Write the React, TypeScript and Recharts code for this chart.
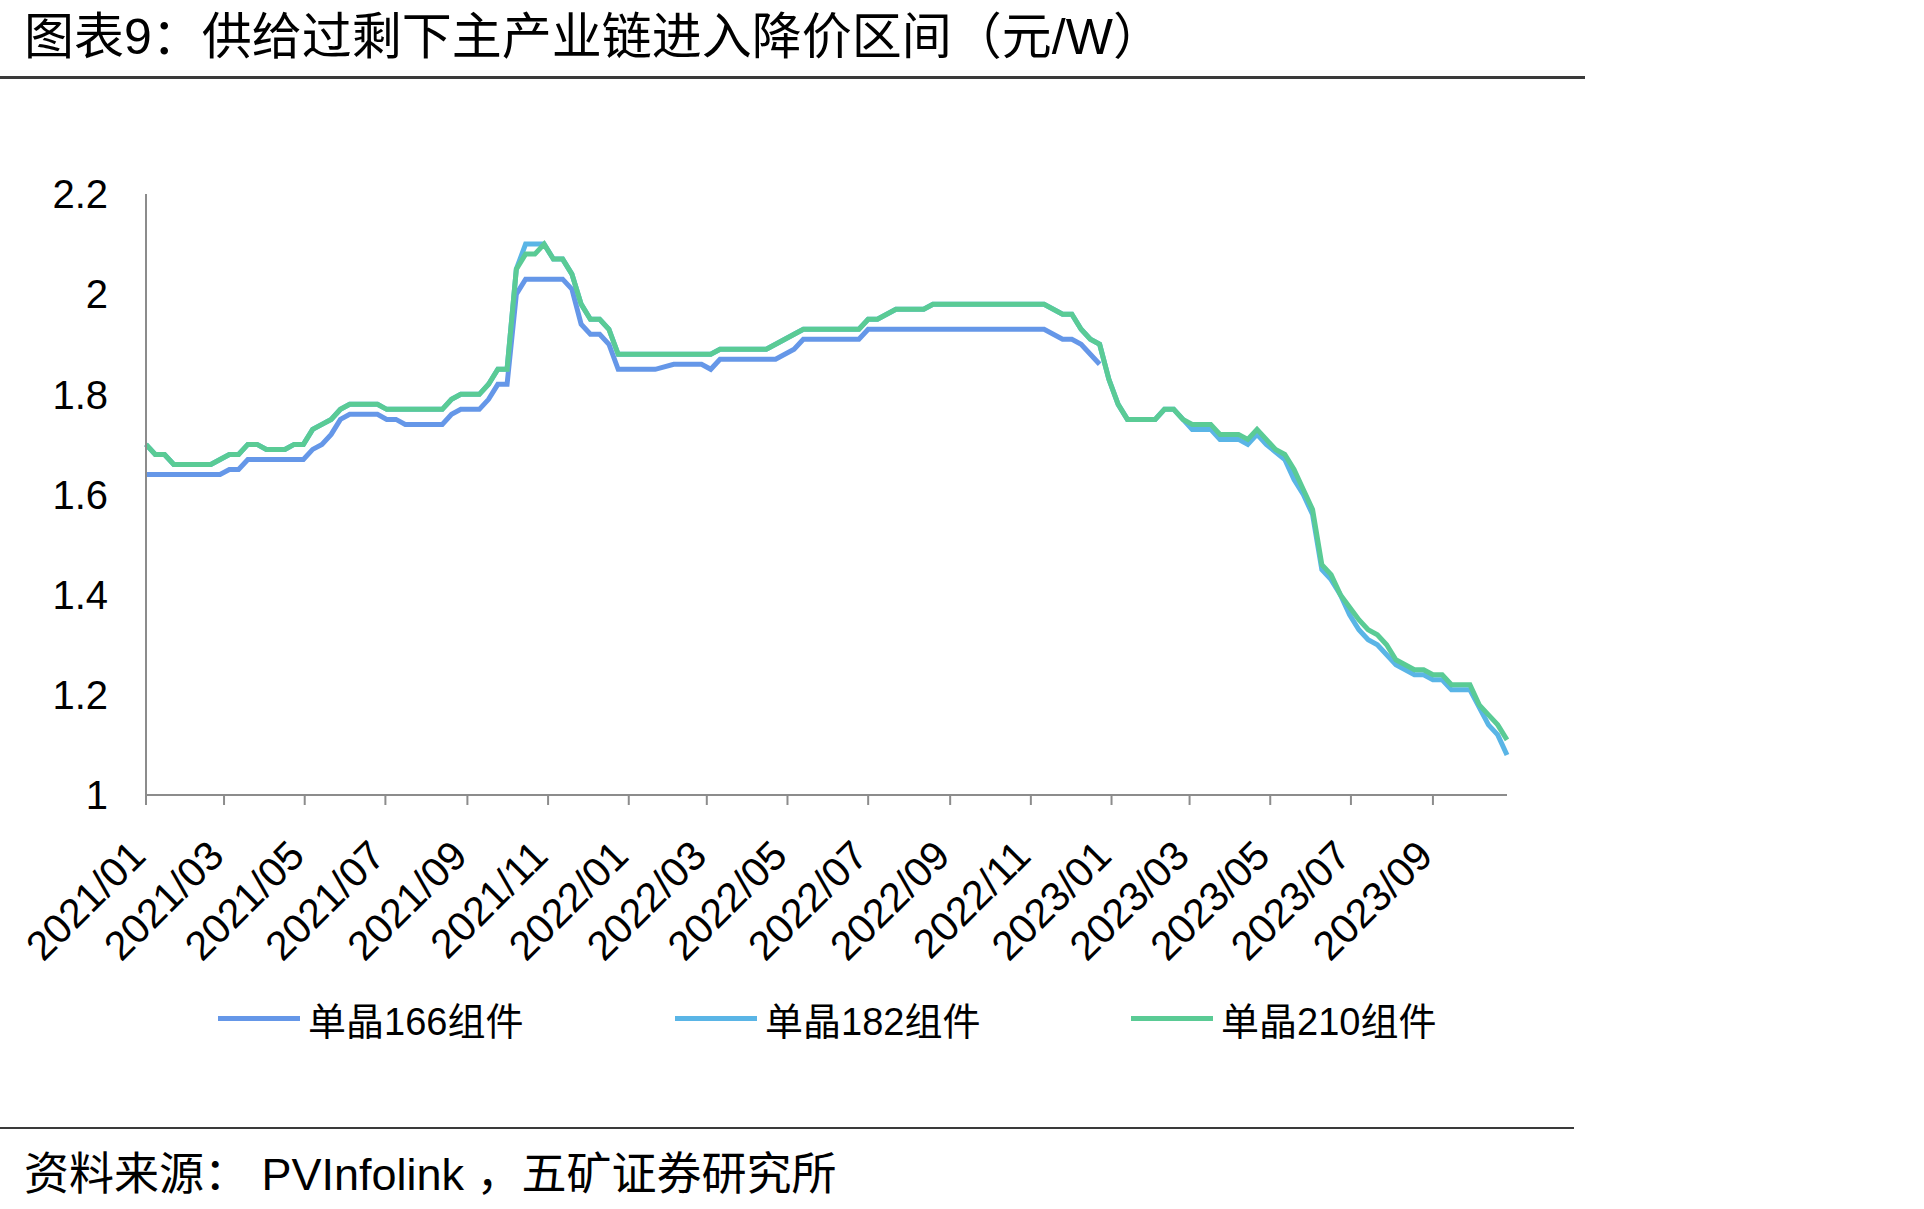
import React from 'react';
import { LineChart, Line, XAxis, YAxis } from 'recharts';

// weekly PVInfolink quotes, only the weeks where the line changes direction
const dates166 = [
  '2021-01-01', '2021-02-26', '2021-03-05', '2021-03-12', '2021-03-19', '2021-04-30', '2021-05-07', '2021-05-14',
  '2021-05-21', '2021-05-28', '2021-06-04', '2021-06-25', '2021-07-02', '2021-07-09', '2021-07-16', '2021-08-13',
  '2021-08-20', '2021-08-27', '2021-09-10', '2021-09-17', '2021-09-24', '2021-10-01', '2021-10-08', '2021-10-15',
  '2021-11-12', '2021-11-19', '2021-11-26', '2021-12-03', '2021-12-10', '2021-12-17', '2021-12-24', '2022-01-21',
  '2022-02-04', '2022-02-25', '2022-03-04', '2022-03-11', '2022-04-22', '2022-05-06', '2022-05-13', '2022-06-24',
  '2022-07-01', '2022-11-11', '2022-11-25', '2022-12-02', '2022-12-09', '2022-12-23',
];
const price166 = [
  1.64, 1.64, 1.65, 1.65, 1.67, 1.67, 1.69, 1.70,
  1.72, 1.75, 1.76, 1.76, 1.75, 1.75, 1.74, 1.74,
  1.76, 1.77, 1.77, 1.79, 1.82, 1.82, 2.00, 2.03,
  2.03, 2.01, 1.94, 1.92, 1.92, 1.90, 1.85, 1.85,
  1.86, 1.86, 1.85, 1.87, 1.87, 1.89, 1.91, 1.91,
  1.93, 1.93, 1.91, 1.91, 1.90, 1.86,
];

const dates182 = [
  '2021-01-01', '2021-01-08', '2021-01-15', '2021-01-22', '2021-02-19', '2021-02-26', '2021-03-05', '2021-03-12',
  '2021-03-19', '2021-03-26', '2021-04-02', '2021-04-16', '2021-04-23', '2021-04-30', '2021-05-07', '2021-05-14',
  '2021-05-21', '2021-05-28', '2021-06-04', '2021-06-25', '2021-07-02', '2021-08-13', '2021-08-20', '2021-08-27',
  '2021-09-10', '2021-09-17', '2021-09-24', '2021-10-01', '2021-10-08', '2021-10-15', '2021-10-22', '2021-10-29',
  '2021-11-05', '2021-11-12', '2021-11-19', '2021-11-26', '2021-12-03', '2021-12-10', '2021-12-17', '2021-12-24',
  '2022-03-04', '2022-03-11', '2022-04-15', '2022-04-22', '2022-05-06', '2022-05-13', '2022-06-24', '2022-07-01',
  '2022-07-08', '2022-07-22', '2022-08-12', '2022-08-19', '2022-11-11', '2022-11-25', '2022-12-02', '2022-12-09',
  '2022-12-16', '2022-12-23', '2022-12-30', '2023-01-06', '2023-01-13', '2023-02-03', '2023-02-10', '2023-02-17',
  '2023-02-24', '2023-03-03', '2023-03-17', '2023-03-24', '2023-04-07', '2023-04-14', '2023-04-21', '2023-04-28',
  '2023-05-12', '2023-05-19', '2023-05-26', '2023-06-02', '2023-06-09', '2023-06-16', '2023-06-23', '2023-06-30',
  '2023-07-07', '2023-07-14', '2023-07-21', '2023-08-04', '2023-08-18', '2023-08-25', '2023-09-01', '2023-09-08',
  '2023-09-15', '2023-09-29', '2023-10-13', '2023-10-20', '2023-10-27',
];
const price182 = [
  1.70, 1.68, 1.68, 1.66, 1.66, 1.67, 1.68, 1.68,
  1.70, 1.70, 1.69, 1.69, 1.70, 1.70, 1.73, 1.74,
  1.75, 1.77, 1.78, 1.78, 1.77, 1.77, 1.79, 1.80,
  1.80, 1.82, 1.85, 1.85, 2.05, 2.10, 2.10, 2.10,
  2.07, 2.07, 2.04, 1.98, 1.95, 1.95, 1.93, 1.88,
  1.88, 1.89, 1.89, 1.90, 1.92, 1.93, 1.93, 1.95,
  1.95, 1.97, 1.97, 1.98, 1.98, 1.96, 1.96, 1.93,
  1.91, 1.90, 1.83, 1.78, 1.75, 1.75, 1.77, 1.77,
  1.75, 1.73, 1.73, 1.71, 1.71, 1.70, 1.72, 1.70,
  1.67, 1.63, 1.60, 1.56, 1.45, 1.43, 1.40, 1.36,
  1.33, 1.31, 1.30, 1.26, 1.24, 1.24, 1.23, 1.23,
  1.21, 1.21, 1.14, 1.12, 1.08,
];

const dates210 = [
  '2021-01-01', '2021-01-08', '2021-01-15', '2021-01-22', '2021-02-19', '2021-02-26', '2021-03-05', '2021-03-12',
  '2021-03-19', '2021-03-26', '2021-04-02', '2021-04-16', '2021-04-23', '2021-04-30', '2021-05-07', '2021-05-14',
  '2021-05-21', '2021-05-28', '2021-06-04', '2021-06-25', '2021-07-02', '2021-08-13', '2021-08-20', '2021-08-27',
  '2021-09-10', '2021-09-17', '2021-09-24', '2021-10-01', '2021-10-08', '2021-10-15', '2021-10-22', '2021-10-29',
  '2021-11-05', '2021-11-12', '2021-11-19', '2021-11-26', '2021-12-03', '2021-12-10', '2021-12-17', '2021-12-24',
  '2022-03-04', '2022-03-11', '2022-04-15', '2022-04-22', '2022-05-06', '2022-05-13', '2022-06-24', '2022-07-01',
  '2022-07-08', '2022-07-22', '2022-08-12', '2022-08-19', '2022-11-11', '2022-11-25', '2022-12-02', '2022-12-09',
  '2022-12-16', '2022-12-23', '2022-12-30', '2023-01-06', '2023-01-13', '2023-02-03', '2023-02-10', '2023-02-17',
  '2023-02-24', '2023-03-03', '2023-03-17', '2023-03-24', '2023-04-07', '2023-04-14', '2023-04-21', '2023-04-28',
  '2023-05-05', '2023-05-12', '2023-05-19', '2023-05-26', '2023-06-02', '2023-06-09', '2023-06-16', '2023-06-23',
  '2023-07-07', '2023-07-14', '2023-07-21', '2023-07-28', '2023-08-04', '2023-08-18', '2023-08-25', '2023-09-01',
  '2023-09-08', '2023-09-15', '2023-09-29', '2023-10-06', '2023-10-13', '2023-10-20', '2023-10-27',
];
const price210 = [
  1.70, 1.68, 1.68, 1.66, 1.66, 1.67, 1.68, 1.68,
  1.70, 1.70, 1.69, 1.69, 1.70, 1.70, 1.73, 1.74,
  1.75, 1.77, 1.78, 1.78, 1.77, 1.77, 1.79, 1.80,
  1.80, 1.82, 1.85, 1.85, 2.05, 2.08, 2.08, 2.10,
  2.07, 2.07, 2.04, 1.98, 1.95, 1.95, 1.93, 1.88,
  1.88, 1.89, 1.89, 1.90, 1.92, 1.93, 1.93, 1.95,
  1.95, 1.97, 1.97, 1.98, 1.98, 1.96, 1.96, 1.93,
  1.91, 1.90, 1.83, 1.78, 1.75, 1.75, 1.77, 1.77,
  1.75, 1.74, 1.74, 1.72, 1.72, 1.71, 1.73, 1.71,
  1.69, 1.68, 1.65, 1.61, 1.57, 1.46, 1.44, 1.40,
  1.35, 1.33, 1.32, 1.30, 1.27, 1.25, 1.25, 1.24,
  1.24, 1.22, 1.22, 1.18, 1.16, 1.14, 1.11,
];

const tickLabels = [
  '2021/01', '2021/03', '2021/05', '2021/07', '2021/09', '2021/11',
  '2022/01', '2022/03', '2022/05', '2022/07', '2022/09', '2022/11',
  '2023/01', '2023/03', '2023/05', '2023/07', '2023/09',
];
const yTicks = [1, 1.2, 1.4, 1.6, 1.8, 2, 2.2];

const seriesNames = ['单晶166组件', '单晶182组件', '单晶210组件'];
const seriesColors = ['#6597E8', '#5AB5E6', '#5ACB95'];

const FONT = '"Liberation Sans", Arial, "Noto Sans CJK SC", sans-serif';
const AXIS = '#8c8c8c';

const origin = Date.parse('2021-01-01');
const toDay = (s: string) => (Date.parse(s) - origin) / 86400000;

const build = (dates: string[], values: number[]) =>
  dates.map((d, i) => ({ t: toDay(d), v: values[i] }));

const lines = [
  build(dates166, price166),
  build(dates182, price182),
  build(dates210, price210),
];
const xTicks = tickLabels.map((l) => toDay(l.replace('/', '-') + '-01'));
const lastDay = toDay(dates210[dates210.length - 1]);

const labelFor = (day: number) => tickLabels[xTicks.indexOf(day)] ?? '';

const XTick = ({ x, y, payload }: any) => (
  <text
    x={x + 2}
    y={y + 51}
    transform={`rotate(-45, ${x + 2}, ${y + 51})`}
    textAnchor="end"
    fontSize={41}
    fontFamily={FONT}
    fill="#000"
  >
    {labelFor(payload.value)}
  </text>
);

export default function App() {
  return (
    <div style={{ position: 'absolute', left: 0, top: 0, width: 1924, height: 1209, background: '#fff', fontFamily: FONT, color: '#000' }}>
      <div style={{ position: 'absolute', left: 24, top: 10, fontSize: 50, lineHeight: '54px', whiteSpace: 'nowrap' }}>
        图表9：供给过剩下主产业链进入降价区间（元/W）
      </div>
      <div style={{ position: 'absolute', left: 0, top: 76, width: 1585, height: 3, background: '#3a3a3a' }} />

      <div style={{ position: 'absolute', left: 0, top: 150 }}>
        <LineChart width={1560} height={860} margin={{ top: 44, right: 53, bottom: 85, left: 0 }}>
          <XAxis
            type="number"
            dataKey="t"
            domain={[0, lastDay]}
            ticks={xTicks}
            interval={0}
            height={130}
            tick={<XTick />}
            tickSize={10}
            axisLine={{ stroke: AXIS, strokeWidth: 2 }}
            tickLine={{ stroke: AXIS, strokeWidth: 2 }}
          />
          <YAxis
            type="number"
            domain={[1, 2.2]}
            ticks={yTicks}
            interval={0}
            width={146}
            tickSize={0}
            tickMargin={38}
            tickFormatter={(v: number) => String(Math.round(v * 10) / 10)}
            tick={{ fontSize: 40, fill: '#000', fontFamily: FONT }}
            axisLine={{ stroke: AXIS, strokeWidth: 2 }}
            tickLine={false}
          />
          {lines.map((data, i) => (
            <Line
              key={seriesNames[i]}
              data={data}
              dataKey="v"
              name={seriesNames[i]}
              type="linear"
              stroke={seriesColors[i]}
              strokeWidth={5}
              dot={false}
              isAnimationActive={false}
            />
          ))}
        </LineChart>
      </div>

      <div style={{ position: 'absolute', left: 0, top: 994, width: 1560, height: 48 }}>
        {seriesNames.map((name, i) => (
          <div
            key={name}
            style={{ position: 'absolute', left: [218, 675, 1131][i], top: 0, display: 'flex', alignItems: 'center', height: 48, whiteSpace: 'nowrap' }}
          >
            <span style={{ display: 'inline-block', width: 82, height: 5, background: seriesColors[i], marginRight: 8 }} />
            <span style={{ fontSize: 38 }}>{name}</span>
          </div>
        ))}
      </div>

      <div style={{ position: 'absolute', left: 0, top: 1127, width: 1574, height: 2, background: '#3a3a3a' }} />
      <div style={{ position: 'absolute', left: 24, top: 1150, fontSize: 45, lineHeight: '50px', whiteSpace: 'pre' }}>
        资料来源： PVInfolink ，五矿证券研究所
      </div>
    </div>
  );
}
